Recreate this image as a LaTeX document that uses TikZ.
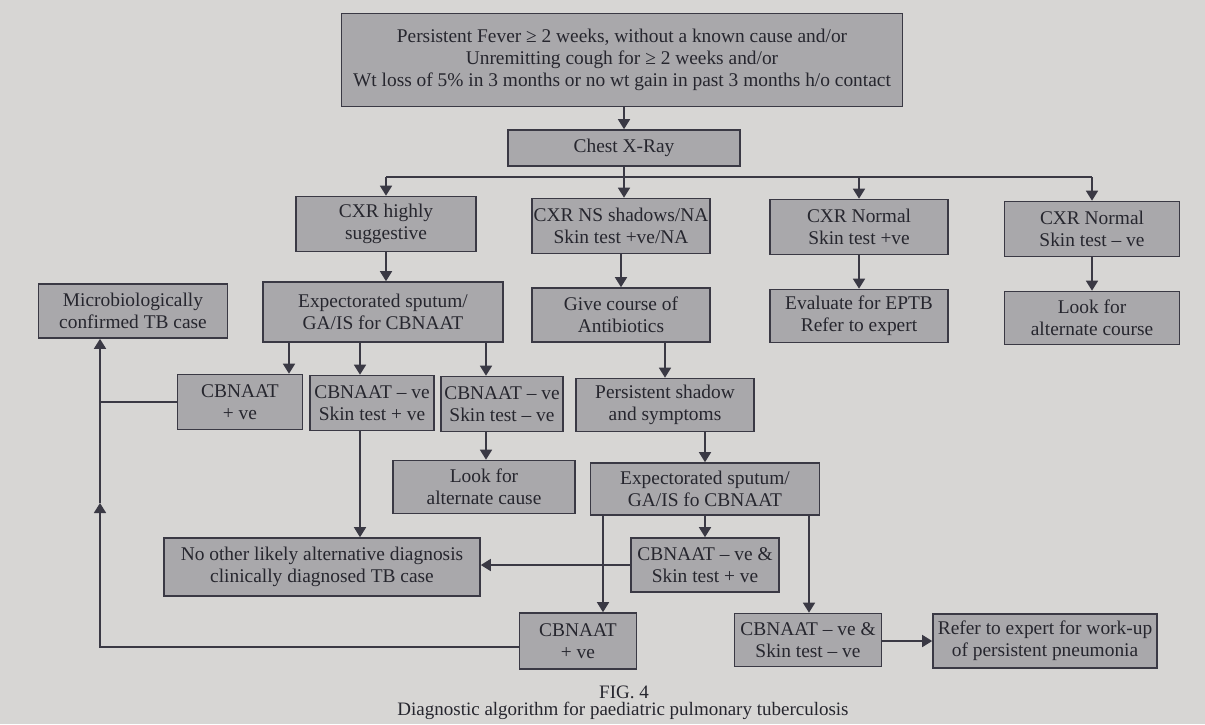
\documentclass[tikz,border=0pt]{standalone}
\usepackage{fontspec}
\setmainfont{Liberation Serif}
\usetikzlibrary{arrows.meta}
\definecolor{pagec}{HTML}{D7D6D4}
\definecolor{boxc}{HTML}{A9A8AB}
\definecolor{linec}{HTML}{3A3944}
\definecolor{textc}{HTML}{26262E}
\begin{document}
\begin{tikzpicture}[x=0.5pt,y=-0.5pt,
	box/.style={draw=linec,fill=boxc,line width=0.8pt,align=center,inner sep=0pt,text=textc,font=\fontsize{9.7}{11}\selectfont},
	line/.style={draw=linec,line width=0.8pt},
	arr/.style={line,-{Triangle[width=6pt,length=5pt]}},
	captext/.style={text=textc,font=\fontsize{9.5}{11}\selectfont}]
	\fill[pagec] (0,0) rectangle (1205,724);
	\useasboundingbox (0,0) rectangle (1205,724);
	\node[box,minimum width=280.5pt,minimum height=46.5pt] at (622,60) (fever) {Persistent Fever ≥ 2 weeks, without a known cause and/or\\Unremitting cough for ≥ 2 weeks and/or\\Wt loss of 5\% in 3 months or no wt gain in past 3 months h/o contact};
	\node[box,minimum width=116pt,minimum height=18pt] at (624,148) (xray) {Chest X-Ray};
	\node[box,minimum width=90pt,minimum height=27.5pt] at (386,224) (cxrhigh) {CXR highly\\suggestive};
	\node[box,minimum width=89pt,minimum height=27.5pt] at (621,226) (cxrns) {CXR NS shadows/NA\\Skin test +ve/NA};
	\node[box,minimum width=89pt,minimum height=27.5pt] at (859,227) (cxrpos) {CXR Normal\\Skin test +ve};
	\node[box,minimum width=87.5pt,minimum height=27.5pt] at (1092,229) (cxrneg) {CXR Normal\\Skin test -- ve};
	\node[box,minimum width=94.5pt,minimum height=27pt] at (133,311) (micro) {Microbiologically\\confirmed TB case};
	\node[box,minimum width=120pt,minimum height=30pt] at (383,312) (sputum) {Expectorated sputum/\\GA/IS for CBNAAT};
	\node[box,minimum width=89pt,minimum height=27pt] at (621,315) (antib) {Give course of\\Antibiotics};
	\node[box,minimum width=89pt,minimum height=26.5pt] at (859,316) (eptb) {Evaluate for EPTB\\Refer to expert};
	\node[box,minimum width=87.5pt,minimum height=26.5pt] at (1092,318) (altcourse) {Look for\\alternate course};
	\node[box,minimum width=62.5pt,minimum height=27.5pt] at (240,402) (cbpos) {CBNAAT\\+ ve};
	\node[box,minimum width=62pt,minimum height=27.5pt] at (372,403) (cbnegpos) {CBNAAT -- ve\\Skin test + ve};
	\node[box,minimum width=61pt,minimum height=27.5pt] at (502,404) (cbnegneg) {CBNAAT -- ve\\Skin test -- ve};
	\node[box,minimum width=89pt,minimum height=26.5pt] at (665,405) (persist) {Persistent shadow\\and symptoms};
	\node[box,minimum width=91pt,minimum height=26.5pt] at (484,487) (altcause) {Look for\\alternate cause};
	\node[box,minimum width=114.5pt,minimum height=26pt] at (705,489) (sputumb) {Expectorated sputum/\\GA/IS fo CBNAAT};
	\node[box,minimum width=158pt,minimum height=29pt] at (322,567) (noother) {No other likely alternative diagnosis\\clinically diagnosed TB case};
	\node[box,minimum width=74pt,minimum height=27pt] at (705,565) (cbnegposb) {CBNAAT -- ve \&\\Skin test + ve};
	\node[box,minimum width=58.5pt,minimum height=28pt] at (578,641) (cbposb) {CBNAAT\\+ ve};
	\node[box,minimum width=73.5pt,minimum height=26.5pt] at (808,640) (cbnegnegb) {CBNAAT -- ve \&\\Skin test -- ve};
	\node[box,minimum width=112pt,minimum height=27pt] at (1045,641) (refer) {Refer to expert for work-up\\of persistent pneumonia};
	\node[captext] at (624,692) (fig) {FIG. 4};
	\node[captext] at (623,711) (caption) {Diagnostic algorithm for paediatric pulmonary tuberculosis};
	\coordinate (busl) at (386,177);
	\coordinate (busr) at (1092,177);
	\coordinate (loopc) at (100,647);
	\coordinate (loopm) at (100,503);
	\draw[arr] (fever.south -| xray) -- (xray);
	\draw[arr] (xray) -- (xray |- cxrns.north);
	\draw[line] (busl) -- (busr);
	\draw[arr] (busl) -- (cxrhigh);
	\draw[arr] (cxrpos |- busl) -- (cxrpos);
	\draw[arr] (busr) -- (cxrneg);
	\draw[arr] (cxrhigh) -- (cxrhigh |- sputum.north);
	\draw[arr] (cxrns) -- (antib);
	\draw[arr] (cxrpos) -- (eptb);
	\draw[arr] (cxrneg) -- (altcourse);
	\draw[arr] (289,0 |- sputum.south) -- (289,0 |- cbpos.north);
	\draw[arr] (360,0 |- sputum.south) -- (360,0 |- cbnegpos.north);
	\draw[arr] (486,0 |- sputum.south) -- (486,0 |- cbnegneg.north);
	\draw[arr] (665,0 |- antib.south) -- (persist);
	\draw[arr] (486,0 |- cbnegneg.south) -- (486,0 |- altcause.north);
	\draw[arr] (sputumb |- persist.south) -- (sputumb);
	\draw[arr] (360,0 |- cbnegpos.south) -- (360,0 |- noother.north);
	\draw[arr] (sputumb) -- (cbnegposb);
	\draw[arr] (cbnegposb.west) -- (cbnegposb.west -| noother.east);
	\draw[arr] (603,0 |- sputumb.south) -- (603,0 |- cbposb.north);
	\draw[arr] (809,0 |- sputumb.south) -- (809,0 |- cbnegnegb.north);
	\draw[arr] (cbnegnegb.east |- refer.west) -- (refer.west);
	\draw[line] (cbpos.west) -- (cbpos.west -| loopc);
	\draw[arr] (cbposb.west |- loopc) -- (loopc) -- (loopm);
	\draw[arr] (loopm) -- (loopm |- micro.south);
\end{tikzpicture}
\end{document}
